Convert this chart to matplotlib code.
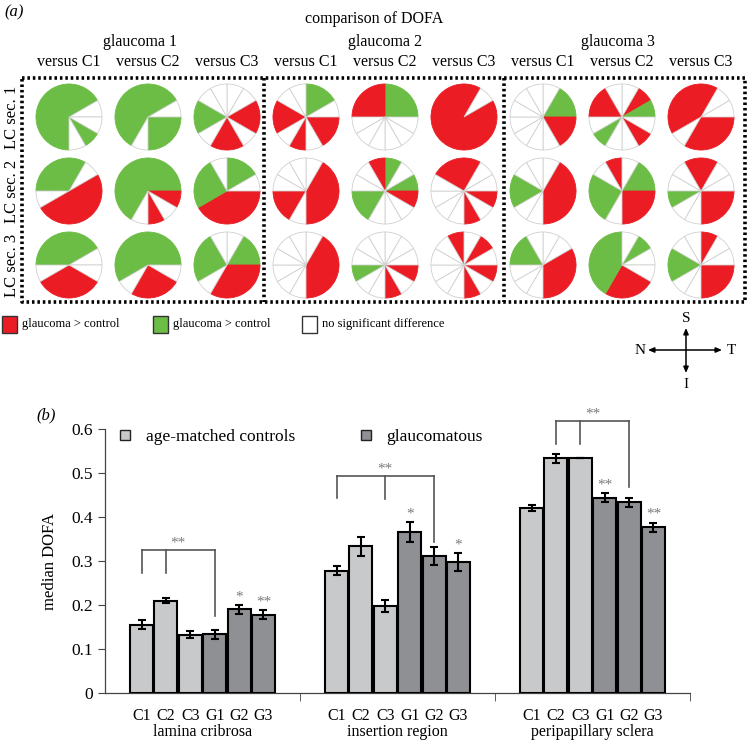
import numpy as np
import matplotlib.pyplot as plt
from matplotlib.patches import Rectangle
from matplotlib.lines import Line2D

plt.rcParams['font.family'] = ['Liberation Serif', 'DejaVu Serif']

# =========================
# Panel (a) data: 12 sectors per pie, clockwise from 12 o'clock
# R = red, G = green, W = no significant difference
# rows = LC sec. 1..3, columns = versus C1..C3
# =========================
glaucoma1 = [["GGWWGWGGGGGG", "GGWGGGWGGGGG", "WWRRWRRWGGWW"],
             ["GWRRRRRRWGGG", "GGGRWRWGGGGG", "GGWRRRRRGGGW"],
             ["GGWWRRRRWGGG", "GGGWRRRWGGGG", "WGGRRRRWGGGW"]]
glaucoma2 = [["GGWRRWRWRRWW", "GGGWWWWWWRRR", "RWRRRRRRRRRR"],
             ["WRRRRRWRRWWW", "GWGRWWWGGWWR", "RWWRWRWWWWRR"],
             ["WRRRRRWWWWWW", "WWWRWRWWGWWW", "WRWRWRWWWWWR"]]
glaucoma3 = [["WGGRRWWWWWWW", "WRGWRWWGWRRW", "RWWRRRRWRRRR"],
             ["WRRRRRWWGGWW", "WGGRRRWGGGWR", "RWWRRRWWGWWR"],
             ["WWRRRRWWWGGW", "WGWWRRRGGGGG", "RWWRRRWWGGWW"]]
groups = ["glaucoma 1", "glaucoma 2", "glaucoma 3"]
versus = ["versus C1", "versus C2", "versus C3"]
sections = ["LC sec. 1", "LC sec. 2", "LC sec. 3"]
legend_a = ["glaucoma > control", "glaucoma > control", "no significant difference"]

# =========================
# Panel (b) data
# =========================
regions = ["lamina cribrosa", "insertion region", "peripapillary sclera"]
bar_labels = ["C1", "C2", "C3", "G1", "G2", "G3"]
dofa = [[0.155, 0.210, 0.132, 0.133, 0.190, 0.178],
        [0.278, 0.333, 0.198, 0.366, 0.311, 0.298],
        [0.420, 0.533, 0.533, 0.444, 0.433, 0.377]]
dofa_err = [[0.010, 0.005, 0.008, 0.010, 0.010, 0.010],
            [0.010, 0.022, 0.013, 0.022, 0.020, 0.020],
            [0.007, 0.010, 0.000, 0.010, 0.010, 0.010]]
stars = [["", "", "", "", "*", "**"],
         ["", "", "", "*", "", "*"],
         ["", "", "", "**", "", "**"]]
# bracket legs (bar index, bottom of leg) and top of bracket
bracket_legs = [[(0, 0.272), (1, 0.272), (3, 0.176)],
                [(0, 0.443), (2, 0.440), (4, 0.343)],
                [(1, 0.566), (2, 0.566), (4, 0.468)]]
bracket_top = [0.325, 0.493, 0.618]

RED = "#ec1c24"
GREEN = "#6cbd45"
C_LIGHT = "#c8c9cb"
C_DARK = "#8f9093"
sector_colors = {"R": RED, "G": GREEN, "W": "white"}

W, H = 748, 741
fig = plt.figure(figsize=(W / 100, H / 100), dpi=100)

# overlay in pixel coordinates for panel (a) decorations
ax0 = fig.add_axes([0, 0, 1, 1])
ax0.set_xlim(0, W)
ax0.set_ylim(H, 0)
ax0.axis("off")


def px_axes(cx, cy, size):
    return fig.add_axes([(cx - size / 2) / W, 1 - (cy + size / 2) / H, size / W, size / H])


ax0.text(4, 12, "(a)", style="italic", fontsize=12, va="center")
ax0.text(374, 19, "comparison of DOFA", fontsize=11.5, ha="center", va="center")

col_x = [69 + 79 * k for k in range(9)]
row_y = [117, 191, 265]
group_x = [140, 385, 618]

for g, data in enumerate([glaucoma1, glaucoma2, glaucoma3]):
    ax0.text(group_x[g], 42, groups[g], fontsize=11.5, ha="center", va="center")
    for c in range(3):
        ax0.text(col_x[3 * g + c], 62, versus[c], fontsize=11.5, ha="center", va="center")
        for r in range(3):
            pax = px_axes(col_x[3 * g + c], row_y[r], 68)
            wedges, _ = pax.pie([1] * 12, colors=[sector_colors[s] for s in data[r][c]],
                                startangle=90, counterclock=False,
                                wedgeprops=dict(linewidth=0.6))
            for wdg, s in zip(wedges, data[r][c]):
                if s == "W":
                    wdg.set_edgecolor("#d0d0d0")
                    wdg.set_zorder(3)
                else:
                    wdg.set_edgecolor(sector_colors[s])
                    wdg.set_zorder(2)
            pax.set_xlim(-1.03, 1.03)
            pax.set_ylim(-1.03, 1.03)

for r in range(3):
    ax0.text(12, row_y[r], sections[r], rotation=90, fontsize=12, ha="center", va="center")

# dotted frame
dots = dict(color="k", lw=2.6, ls=(0, (0.7, 0.8)))
ax0.plot([22, 745, 745, 22, 22], [78, 78, 302, 302, 78], **dots)
ax0.plot([264, 264], [78, 302], **dots)
ax0.plot([504, 504], [78, 302], **dots)

# legend of panel (a)
for x0, col, lab in zip([2, 153, 302], [RED, GREEN, "white"], legend_a):
    ax0.add_patch(Rectangle((x0, 316), 15, 17, facecolor=col, edgecolor="#333333", lw=1))
    ax0.text(x0 + 20, 324, lab, fontsize=9, va="center")

# compass
arw = dict(arrowstyle="<|-|>,head_length=0.35,head_width=0.15", color="k", lw=1.1,
           shrinkA=0, shrinkB=0)
ax0.annotate("", xy=(686, 328), xytext=(686, 373), arrowprops=arw)
ax0.annotate("", xy=(648, 350), xytext=(722, 350), arrowprops=arw)
ax0.text(686, 318, "S", fontsize=11, ha="center", va="center")
ax0.text(686, 384, "I", fontsize=11, ha="center", va="center")
ax0.text(640, 351, "N", fontsize=11, ha="center", va="center")
ax0.text(731, 351, "T", fontsize=11, ha="center", va="center")

# =========================
# Panel (b)
# =========================
ax0.text(36, 415, "(b)", style="italic", fontsize=12, va="center")
ax = fig.add_axes([105 / W, 1 - 693 / H, 585 / W, 264 / H])

step = 0.125
all_x, all_lab = [], []
for g in range(3):
    x = g + (np.arange(6) - 2.5) * step
    ax.bar(x, dofa[g], width=0.118, color=[C_LIGHT] * 3 + [C_DARK] * 3,
           edgecolor="k", linewidth=1.5, yerr=dofa_err[g], capsize=3,
           error_kw=dict(elinewidth=1.5, capthick=1.5, ecolor="k"), zorder=3)
    for i in range(6):
        if stars[g][i]:
            ax.text(x[i], dofa[g][i] + dofa_err[g][i] + 0.004, stars[g][i],
                    ha="center", va="bottom", color="#7a7a7a", fontsize=11)
    legs = bracket_legs[g]
    top = bracket_top[g]
    for i, y in legs:
        ax.plot([x[i], x[i]], [y, top], color="#555555", lw=1.2, clip_on=False)
    ax.plot([x[legs[0][0]], x[legs[-1][0]]], [top, top], color="#555555", lw=1.2, clip_on=False)
    ax.text((x[legs[0][0]] + x[legs[-1][0]]) / 2, top + 0.002, "**", ha="center", va="bottom",
            color="#7a7a7a", fontsize=11, clip_on=False)
    ax.text(g, -0.088, regions[g], ha="center", va="center", fontsize=11.5, clip_on=False)
    all_x += list(x)
    all_lab += bar_labels

ax.set_xlim(-0.5, 2.5)
ax.set_ylim(0, 0.6)
ax.set_xticks(all_x)
ax.set_xticklabels(all_lab, fontsize=11.5)
ax.tick_params(axis="x", which="major", length=0, pad=11)
ax.set_xticks([0.5, 1.5, 2.5], minor=True)
ax.tick_params(axis="x", which="minor", length=6, color="#444444")
ax.set_yticks([0, 0.1, 0.2, 0.3, 0.4, 0.5, 0.6])
ax.set_yticklabels(["0", "0.1", "0.2", "0.3", "0.4", "0.5", "0.6"], fontsize=12.5)
ax.tick_params(axis="y", length=5, color="#444444")
ax.set_ylabel("median DOFA", fontsize=12, labelpad=10)
for s in ["top", "right"]:
    ax.spines[s].set_visible(False)
for s in ["left", "bottom"]:
    ax.spines[s].set_color("#444444")
    ax.spines[s].set_linewidth(0.9)

handles = [Line2D([], [], marker="s", ls="", markersize=7.5, markerfacecolor=c,
                  markeredgecolor="#222222", markeredgewidth=1) for c in [C_LIGHT, C_DARK]]
ax.legend(handles, ["age-matched controls", "glaucomatous"], ncol=2, loc="upper left",
          bbox_to_anchor=(-0.022, 1.058), frameon=False, fontsize=12.5,
          handletextpad=0.2, columnspacing=3.05)

fig.savefig("out.png", dpi=100)
